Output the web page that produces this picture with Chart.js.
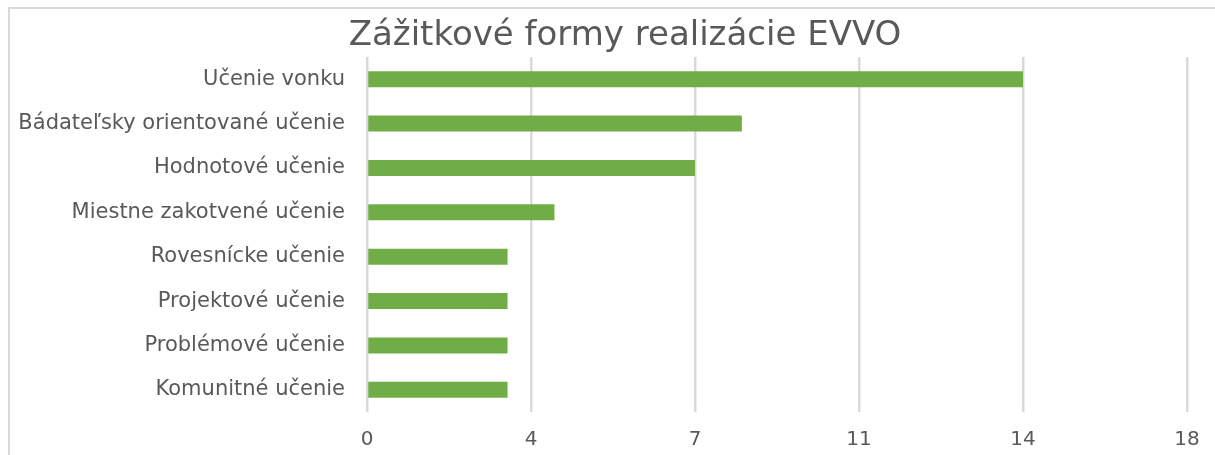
<!DOCTYPE html>
<html>
<head>
<meta charset="utf-8">
<script src="https://cdn.jsdelivr.net/npm/chart.js@4"></script>
<style>
  html, body { margin: 0; padding: 0; overflow: hidden; background: #fff; }
  #frame { position: absolute; left: 8px; top: 7px; width: 1300px; height: 500px;
           border-top: 2px solid #d9d9d9; border-left: 2px solid #d9d9d9; }
  #wrap { position: absolute; left: 0; top: 0; width: 1250px; height: 455px; }
</style>
</head>
<body>
<div id="frame"></div>
<div id="wrap"><canvas id="chart"></canvas></div>
<script>
const chartTitle = 'Zážitkové formy realizácie EVVO';
const categories = [
  'Učenie vonku',
  'Bádateľsky orientované učenie',
  'Hodnotové učenie',
  'Miestne zakotvené učenie',
  'Rovesnícke učenie',
  'Projektové učenie',
  'Problémové učenie',
  'Komunitné učenie'
];
const counts = [14, 8, 7, 4, 3, 3, 3, 3];
const axisMax = 17.5;
const axisStep = 3.5;

const textColor = '#595959';
const fontFamily = '"DejaVu Sans", sans-serif';

// title sits a bit right of the canvas centre, so draw it by hand
const titlePlugin = {
  id: 'offsetTitle',
  afterDraw(chart) {
    const ctx = chart.ctx;
    ctx.save();
    ctx.fillStyle = textColor;
    ctx.font = '34px ' + fontFamily;
    ctx.textAlign = 'center';
    ctx.textBaseline = 'middle';
    ctx.fillText(chartTitle, 625, 36);
    ctx.restore();
  }
};

new Chart(document.getElementById('chart'), {
  type: 'bar',
  data: {
    labels: categories,
    datasets: [{
      data: counts,
      backgroundColor: '#70ad47',
      borderWidth: 0,
      barPercentage: 0.6,
      categoryPercentage: 0.6
    }]
  },
  options: {
    indexAxis: 'y',
    responsive: true,
    maintainAspectRatio: false,
    animation: false,
    layout: { padding: { left: 0, right: 63, top: 57, bottom: 0 } },
    plugins: {
      legend: { display: false },
      tooltip: { enabled: false },
      title: { display: false }
    },
    scales: {
      x: {
        min: 0,
        max: axisMax,
        ticks: {
          stepSize: axisStep,
          color: textColor,
          font: { family: fontFamily, size: 20 },
          padding: 16,
          callback: (v) => Math.round(v)
        },
        grid: { color: '#d9d9d9', lineWidth: 2.5, drawTicks: false },
        border: { display: false },
        afterFit: (scale) => { scale.height = 43; }
      },
      y: {
        ticks: {
          color: textColor,
          font: { family: fontFamily, size: 21 },
          padding: 14
        },
        grid: { display: false },
        border: { display: false },
        afterFit: (scale) => { scale.width = 367; }
      }
    }
  },
  plugins: [titlePlugin]
});
</script>
</body>
</html>
